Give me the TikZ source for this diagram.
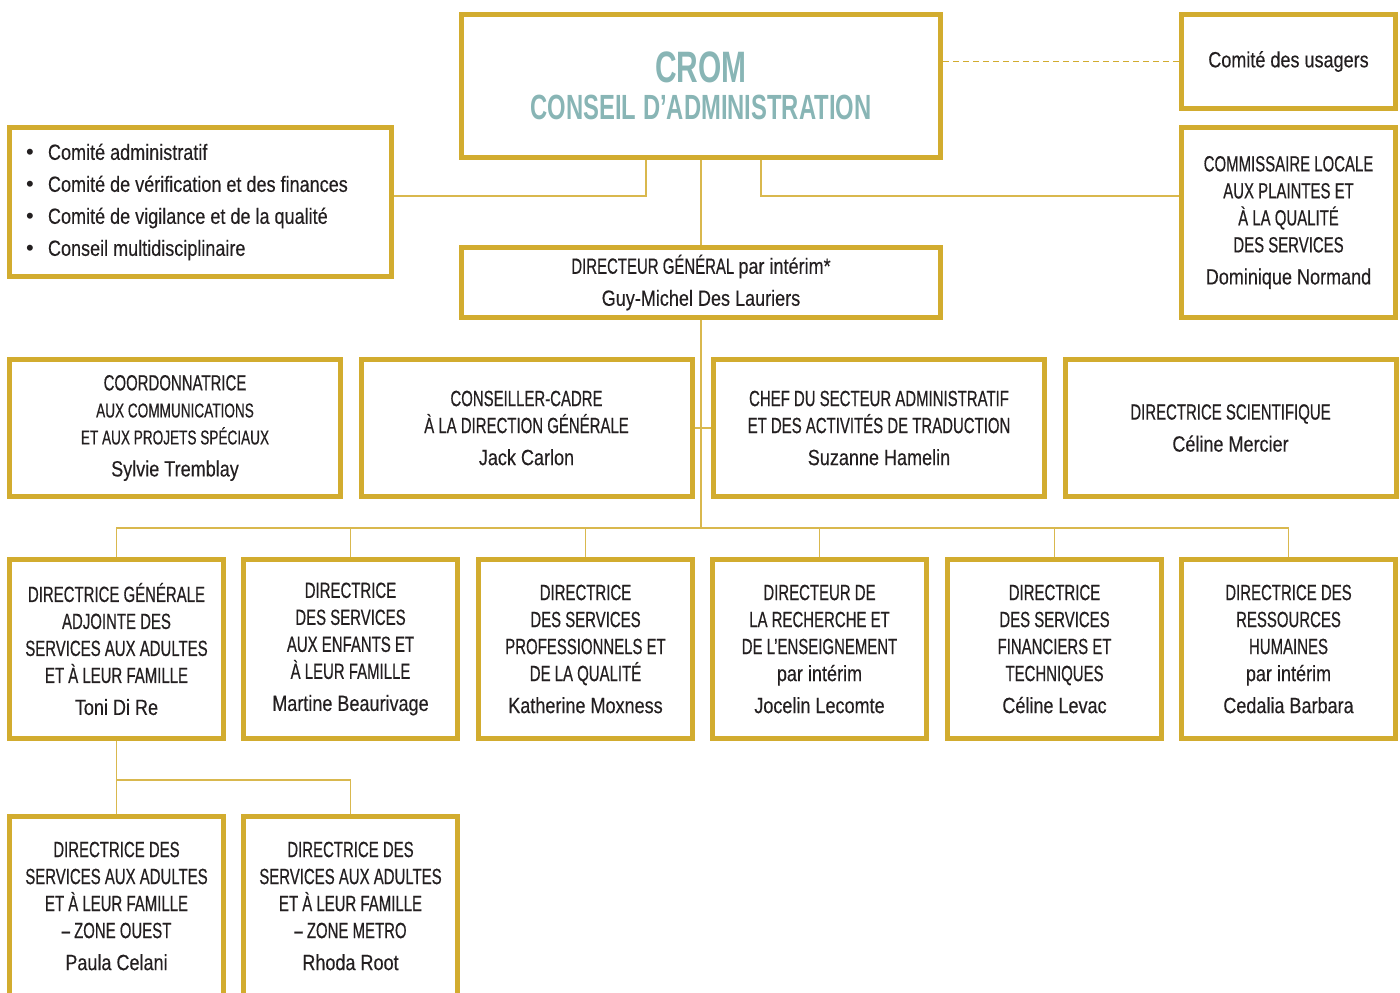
\documentclass[tikz,border=0pt]{standalone}
\usepackage{fontspec}
\setmainfont{Liberation Sans}[FakeStretch=0.68, FakeBold=0.5]
\newfontfamily\lcfont{Liberation Sans}[FakeStretch=0.82, FakeBold=0.3]
\newfontfamily\titlefont{Liberation Sans}[FakeStretch=0.68]
\newfontfamily\plainfont{Liberation Sans}
\newcommand{\lname}[1]{{\lcfont #1}}
\definecolor{crgold}{HTML}{D2AC2F}
\definecolor{crteal}{HTML}{88B5B5}
\definecolor{crtext}{HTML}{231F20}

\begin{document}
\begin{tikzpicture}[x=0.5pt, y=-0.5pt]
\tikzset{ box/.style={draw=crgold, line width=2.5pt, align=center, inner sep=0pt,
            text=crtext, font=\fontsize{11}{13.5}\selectfont},
          rowbox/.style={box, minimum width=107pt, minimum height=89.5pt},
          midbox/.style={box, minimum width=165.5pt, minimum height=68.5pt},
          link/.style={draw=crgold!85, line width=0.8pt},
}

\useasboundingbox (0,0) rectangle (1400,992);
%\draw [lightgray, dashed] (0,0) grid[step=100] (1400,992);

% haut
\node [box, minimum width=239.5pt, minimum height=71.5pt] (CA) at (701,86)
  {{\titlefont\bfseries\color{crteal}\fontsize{22}{22}\selectfont CROM}\\[5pt]
   {\titlefont\bfseries\color{crteal}\fontsize{17.5}{20}\selectfont CONSEIL D’ADMINISTRATION}};
\node [box, minimum width=107pt, minimum height=47pt] (usagers) at (1288.5,61.5) {\lname{Comité des usagers}};
\node [box, minimum width=107pt, minimum height=95pt] (commis) at (1288.5,222.5)
  {COMMISSAIRE LOCALE\\AUX PLAINTES ET\\À LA QUALITÉ\\DES SERVICES\\[2.5pt]\lname{Dominique Normand}};
\node [box, minimum width=191pt, minimum height=74.5pt, text width=174.5pt, align=flush left,
       font=\lcfont\fontsize{11}{16}\selectfont] (comites) at (200.5,202)
  {\makebox[11pt][l]{\plainfont •}Comité administratif\\
   \makebox[11pt][l]{\plainfont •}Comité de vérification et des finances\\
   \makebox[11pt][l]{\plainfont •}Comité de vigilance et de la qualité\\
   \makebox[11pt][l]{\plainfont •}Conseil multidisciplinaire};
\node [box, minimum width=239.5pt, minimum height=35pt] (DG) at (701,282.5)
  {DIRECTEUR GÉNÉRAL \lname{par intérim*}\\[2.5pt]\lname{Guy-Michel Des Lauriers}};

% rang 2
\node [midbox] (coord) at (175,428)
  {COORDONNATRICE\\{\fontsize{10}{13.5}\selectfont AUX COMMUNICATIONS}\\
   {\fontsize{10}{13.5}\selectfont ET AUX PROJETS SPÉCIAUX}\\[2.5pt]\lname{Sylvie Tremblay}};
\node [midbox] (conseil) at (526.5,428)
  {CONSEILLER-CADRE\\À LA DIRECTION GÉNÉRALE\\[2.5pt]\lname{Jack Carlon}};
\node [midbox] (chef) at (879,428)
  {CHEF DU SECTEUR ADMINISTRATIF\\ET DES ACTIVITÉS DE TRADUCTION\\[2.5pt]\lname{Suzanne Hamelin}};
\node [midbox] (dirsci) at (1230.5,428)
  {DIRECTRICE SCIENTIFIQUE\\[2.5pt]\lname{Céline Mercier}};

% rang 3
\node [rowbox] (R1) at (116.5,649)
  {DIRECTRICE GÉNÉRALE\\ADJOINTE DES\\SERVICES AUX ADULTES\\ET À LEUR FAMILLE\\[2.5pt]\lname{Toni Di Re}};
\node [rowbox] (R2) at (350.5,649)
  {DIRECTRICE\\DES SERVICES\\AUX ENFANTS ET\\À LEUR FAMILLE\\[2.5pt]\lname{Martine Beaurivage}};
\node [rowbox] (R3) at (585.5,649)
  {DIRECTRICE\\DES SERVICES\\PROFESSIONNELS ET\\DE LA QUALITÉ\\[2.5pt]\lname{Katherine Moxness}};
\node [rowbox] (R4) at (819.5,649)
  {DIRECTEUR DE\\LA RECHERCHE ET\\DE L’ENSEIGNEMENT\\\lname{par intérim}\\[2.5pt]\lname{Jocelin Lecomte}};
\node [rowbox] (R5) at (1054.5,649)
  {DIRECTRICE\\DES SERVICES\\FINANCIERS ET\\TECHNIQUES\\[2.5pt]\lname{Céline Levac}};
\node [rowbox] (R6) at (1288.5,649)
  {DIRECTRICE DES\\RESSOURCES\\HUMAINES\\\lname{par intérim}\\[2.5pt]\lname{Cedalia Barbara}};

% rang 4
\node [rowbox] (S1) at (116.5,906)
  {DIRECTRICE DES\\SERVICES AUX ADULTES\\ET À LEUR FAMILLE\\– ZONE OUEST\\[2.5pt]\lname{Paula Celani}};
\node [rowbox] (S2) at (350.5,906)
  {DIRECTRICE DES\\SERVICES AUX ADULTES\\ET À LEUR FAMILLE\\– ZONE METRO\\[2.5pt]\lname{Rhoda Root}};

% liens
\draw [link] ([xshift=-27.5pt]CA.south) |- ([yshift=3pt]comites.east);
\draw [link] ([xshift=30pt]CA.south) |- ([yshift=13.25pt]commis.west);
\draw [link] (CA.south) -- (DG.north);
\draw [link, draw=crgold, dash pattern=on 3pt off 2pt] (usagers.west) -- (usagers.west -| CA.east);

\coordinate (bus) at (701,528);
\draw [link] (DG.south) -- (bus);
\foreach \n in {R1,R2,R3,R4,R5,R6}
  \draw [link] (bus) -| (\n.north);
\draw [link] (conseil.east) -- (chef.west);

\coordinate (sub) at (116.5,780);
\draw [link] (R1.south) -- (S1.north);
\draw [link] (sub) -| (S2.north);
\end{tikzpicture}
\end{document}
